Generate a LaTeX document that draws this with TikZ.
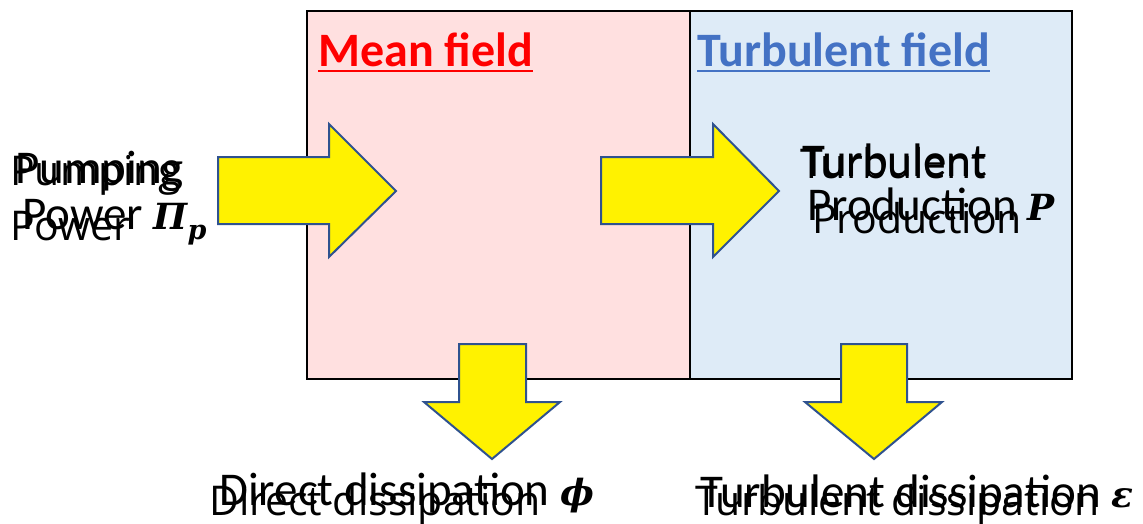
\documentclass[tikz,border=0pt]{standalone}
\usepackage{fontspec}
\newfontfamily\labelA{Open Sans}
\newfontfamily\labelB{Carlito}
\newfontfamily\symfont{DejaVu Serif}
\newcommand{\sym}[1]{{\symfont\bfseries\itshape\fontsize{36}{40}\selectfont #1}}
\newcommand{\symsub}[1]{\raisebox{-0.22em}{\symfont\bfseries\itshape\fontsize{27}{30}\selectfont #1}}
\definecolor{meanfill}{HTML}{FFE0E0}
\definecolor{turbfill}{HTML}{DEEBF7}
\definecolor{arrowline}{HTML}{2F528F}
\definecolor{turbblue}{HTML}{4472C4}
\tikzset{
  fieldbox/.style={draw=black, line width=2pt, inner sep=0pt, anchor=north west},
  flow/.style={fill=yellow, draw=arrowline, line width=2pt, line join=miter},
  title/.style={inner sep=0pt, anchor=base west, font=\labelB\bfseries\fontsize{48}{56}\selectfont},
  txta/.style={inner sep=0pt, anchor=base west, font=\labelA\fontsize{41}{48}\selectfont},
  txtb/.style={inner sep=0pt, anchor=base west, font=\labelB\fontsize{47}{51}\selectfont},
}
\begin{document}
\begin{tikzpicture}[x=1pt, y=-1pt]
\useasboundingbox (0,0) rectangle (1143,523);

% the two field boxes
\node[fieldbox, fill=meanfill, minimum width=383pt, minimum height=368pt] (mean) at (306,10) {};
\node[fieldbox, fill=turbfill, minimum width=382pt, minimum height=368pt] (turb) at (689,10) {};

% box titles with underline
\node[title, text=red] (meant) at (318,66) {Mean field};
\draw[red, line width=2.5pt] ([yshift=-5pt]meant.base west) -- ([yshift=-5pt]meant.base east);
\node[title, text=turbblue] (turbt) at (697,66) {Turbulent field};
\draw[turbblue, line width=2.5pt] ([yshift=-5pt]turbt.base west) -- ([yshift=-5pt]turbt.base east);

% energy flow arrows
\draw[flow] (218,157) -- (329,157) -- (329,124) -- (396,191) -- (329,257) -- (329,224) -- (218,224) -- cycle;
\draw[flow] (601,157) -- (713,157) -- (713,124) -- (779,191) -- (713,257) -- (713,224) -- (601,224) -- cycle;
\draw[flow] (459,344) -- (526,344) -- (526,402) -- (560,402) -- (492,459) -- (424,402) -- (459,402) -- cycle;
\draw[flow] (841,344) -- (907,344) -- (907,402) -- (942,402) -- (874,459) -- (805,402) -- (841,402) -- cycle;

% labels, plain layer
\node[txta] (pumpa) at (10,185) {Pumping};
\node[txta] (powa) at (10,240) {Power};
\node[txta] (turba) at (800,178) {Turbulent};
\node[txta] (proda) at (812,233) {Production};
\node[txta] (dira) at (209,515) {Direct dissipation};
\node[txta] (tdisa) at (695,515) {Turbulent dissipation};

% labels, layer with symbols
\node[txtb] (pumpb) at (15,183) {Pumping};
\node[txtb] (powb) at (22,229) {Power \sym{Π}\symsub{p}};
\node[txtb] (turbb) at (802,176) {Turbulent};
\node[txtb] (prodb) at (807,220) {Production \sym{P}};
\node[txtb] (dirb) at (219,505) {Direct dissipation \sym{ϕ}};
\node[txtb] (tdisb) at (700,507) {Turbulent dissipation \sym{ε}};
\end{tikzpicture}
\end{document}
